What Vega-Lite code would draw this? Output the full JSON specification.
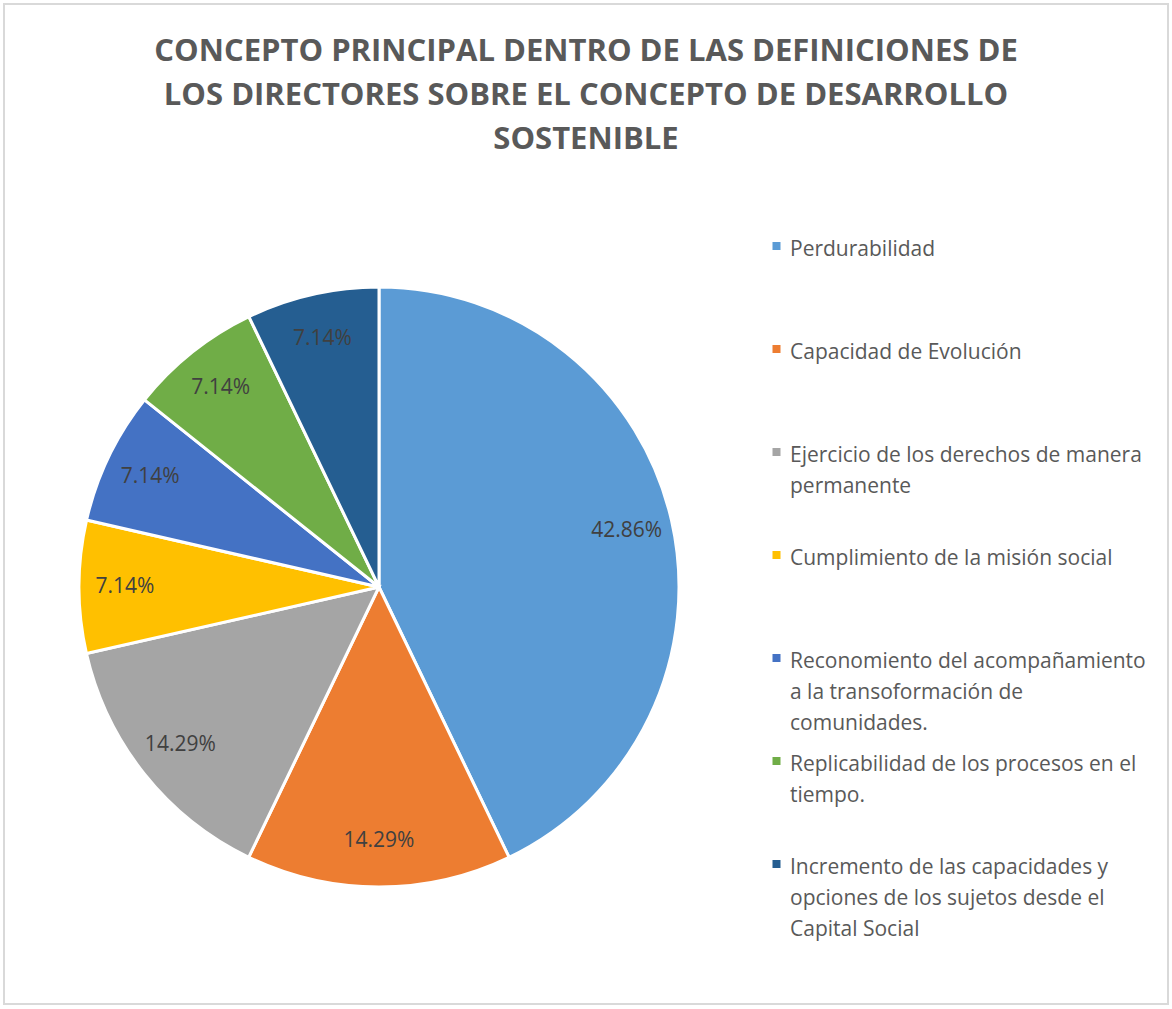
{
  "$schema": "https://vega.github.io/schema/vega-lite/v6.json",
  "width": 1164,
  "height": 1000,
  "autosize": {"type": "none"},
  "padding": {"left": 4, "top": 4, "right": 4, "bottom": 5},
  "background": "white",
  "config": {
    "view": {"stroke": "#D9D9D9", "strokeWidth": 2},
    "font": "Open Sans",
    "style": {"guide-label": {"lineHeight": 31, "dy": -7}}
  },
  "title": {
    "text": ["CONCEPTO PRINCIPAL DENTRO DE LAS DEFINICIONES DE", "LOS DIRECTORES SOBRE EL CONCEPTO DE DESARROLLO", "SOSTENIBLE"],
    "font": "Open Sans",
    "fontSize": 31,
    "fontWeight": "bold",
    "color": "#595959",
    "anchor": "middle",
    "lineHeight": 44,
    "baseline": "top",
    "offset": 0,
    "dy": 152
  },
  "data": {
    "values": [
      {"concepto": "Perdurabilidad", "value": 42.86, "label": "42.86%", "order": 1},
      {"concepto": "Capacidad de Evolución", "value": 14.29, "label": "14.29%", "order": 2},
      {"concepto": "Ejercicio de los derechos de manera permanente", "value": 14.29, "label": "14.29%", "order": 3},
      {"concepto": "Cumplimiento de la misión social", "value": 7.14, "label": "7.14%", "order": 4},
      {"concepto": "Reconomiento del acompañamiento a la transoformación de comunidades.", "value": 7.14, "label": "7.14%", "order": 5},
      {"concepto": "Replicabilidad de los procesos en el tiempo.", "value": 7.14, "label": "7.14%", "order": 6},
      {"concepto": "Incremento de las capacidades y opciones de los sujetos desde el Capital Social", "value": 7.14, "label": "7.14%", "order": 7}
    ]
  },
  "encoding": {
    "theta": {"field": "value", "type": "quantitative", "stack": true},
    "order": {"field": "order", "type": "quantitative"},
    "x": {"datum": 375, "type": "quantitative", "scale": {"domain": [0, 1164]}, "axis": null},
    "y": {"datum": 583, "type": "quantitative", "scale": {"domain": [0, 1000], "reverse": true}, "axis": null}
  },
  "layer": [
    {
      "mark": {"type": "arc", "outerRadius": 300, "stroke": "white", "strokeWidth": 3},
      "encoding": {
        "color": {
          "field": "concepto",
          "type": "nominal",
          "sort": null,
          "scale": {
            "domain": ["Perdurabilidad", "Capacidad de Evolución", "Ejercicio de los derechos de manera permanente", "Cumplimiento de la misión social", "Reconomiento del acompañamiento a la transoformación de comunidades.", "Replicabilidad de los procesos en el tiempo.", "Incremento de las capacidades y opciones de los sujetos desde el Capital Social"],
            "range": ["#5B9BD5", "#ED7D31", "#A5A5A5", "#FFC000", "#4472C4", "#70AD47", "#255E91"]
          },
          "legend": {
            "orient": "none",
            "legendX": 762,
            "legendY": 225,
            "title": null,
            "padding": 0,
            "symbolType": "square",
            "symbolSize": 64,
            "symbolStrokeWidth": 0,
            "labelFont": "Open Sans",
            "labelFontSize": 21,
            "labelColor": "#595959",
            "labelLimit": 500,
            "labelOffset": 3,
            "rowPadding": 10,
            "clipHeight": 34,
            "labelBaseline": "top",
            "labelExpr": "datum.label == 'Ejercicio de los derechos de manera permanente' ? ['Ejercicio de los derechos de manera', 'permanente', ' '] : datum.label == 'Reconomiento del acompañamiento a la transoformación de comunidades.' ? ['Reconomiento del acompañamiento', 'a la transoformación de', 'comunidades.'] : datum.label == 'Replicabilidad de los procesos en el tiempo.' ? ['Replicabilidad de los procesos en el', 'tiempo.', ' '] : datum.label == 'Incremento de las capacidades y opciones de los sujetos desde el Capital Social' ? ['Incremento de las capacidades y', 'opciones de los sujetos desde el', 'Capital Social'] : [datum.label, ' ', ' ']"
          }
        }
      }
    },
    {
      "mark": {"type": "text", "radius": 254, "fontSize": 21, "color": "#404040", "font": "Open Sans"},
      "encoding": {"text": {"field": "label", "type": "nominal"}}
    }
  ]
}
